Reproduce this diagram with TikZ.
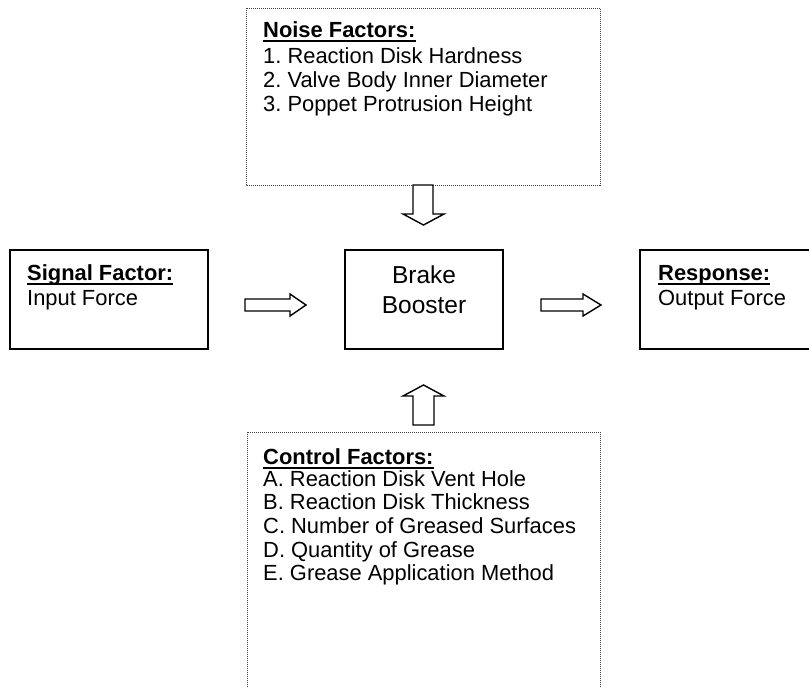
\documentclass[tikz,border=0pt]{standalone}
\usepackage{fontspec}
\setmainfont{Liberation Sans}
\frenchspacing
\tikzset{
  solidbox/.style={draw=black, line width=1.8pt},
  dotbox/.style={draw=black!75, line width=0.9pt, dash pattern=on 1pt off 1pt},
  blockarrow/.style={draw=black, line width=1.4pt, fill=white, line join=miter},
  txt/.style={inner sep=0pt, anchor=base west, font=\fontsize{21.9}{24}\selectfont},
  head/.style={txt, font=\fontsize{21.9}{24}\selectfont\bfseries},
  bigtxt/.style={inner sep=0pt, anchor=base, font=\fontsize{24.5}{30}\selectfont},
  uline/.style={line width=2pt}
}
\newcommand{\ulhead}[1]{\draw[uline] ([yshift=-4pt]#1.base west) -- ([yshift=-4pt]#1.base east);}
\begin{document}
\begin{tikzpicture}[x=1pt,y=-1pt]
\useasboundingbox (0,0) rectangle (809,686);
\clip (0,0) rectangle (809,686);
% boxes
\draw[dotbox] (246,8) rectangle (600,185);
\draw[dotbox] (247,432) rectangle (600,700);
\draw[solidbox] (10,250) rectangle (208,349);
\draw[solidbox] (345,250) rectangle (503,349);
\draw[solidbox] (640,250) rectangle (820,349);
% noise factors
\node[head] (nh) at (263,37) {Noise Factors:};
\ulhead{nh}
\node[txt] (n1) at (263,63) {1. Reaction Disk Hardness};
\node[txt] (n2) at (263,87) {2. Valve Body Inner Diameter};
\node[txt] (n3) at (263,111) {3. Poppet Protrusion Height};
% control factors
\node[head] (ch) at (263,464) {Control Factors:};
\ulhead{ch}
\node[txt] (c1) at (263,486) {A. Reaction Disk Vent Hole};
\node[txt] (c2) at (263,509.5) {B. Reaction Disk Thickness};
\node[txt] (c3) at (263,533) {C. Number of Greased Surfaces};
\node[txt] (c4) at (263,557) {D. Quantity of Grease};
\node[txt] (c5) at (263,580.5) {E. Grease Application Method};
% signal
\node[head] (sh) at (27,280) {Signal Factor:};
\ulhead{sh}
\node[txt] (s1) at (27,305) {Input Force};
% response
\node[head] (rh) at (658,280) {Response:};
\ulhead{rh}
\node[txt] (r1) at (658,305) {Output Force};
% brake booster
\node[bigtxt] (b1) at (424,283) {Brake};
\node[bigtxt] (b2) at (424,313) {Booster};
% block arrows
\draw[blockarrow] (413,185) -- (433,185) -- (433,214) -- (444,214) -- (423.5,225) -- (403,214) -- (413,214) -- cycle;
\draw[blockarrow] (413,425) -- (434,425) -- (434,396) -- (444,396) -- (423.5,385) -- (403,396) -- (413,396) -- cycle;
\draw[blockarrow] (245,299) -- (290,299) -- (290,294) -- (306,305) -- (290,316) -- (290,311) -- (245,311) -- cycle;
\draw[blockarrow] (541,299) -- (583,299) -- (583,294) -- (601,305) -- (583,316) -- (583,311) -- (541,311) -- cycle;
\end{tikzpicture}
\end{document}
